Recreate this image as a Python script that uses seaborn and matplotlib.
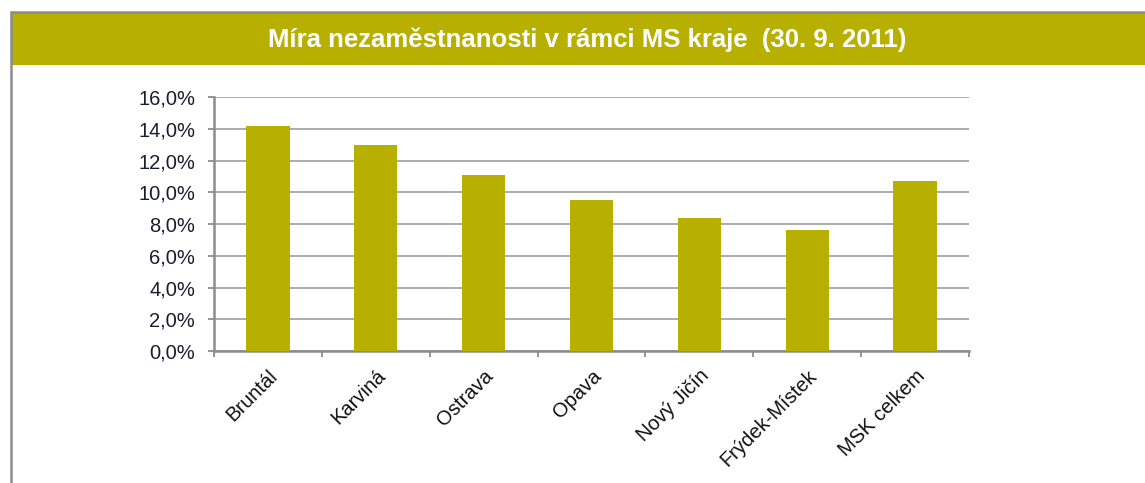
import matplotlib
matplotlib.use("Agg")
import matplotlib.pyplot as plt
from matplotlib.patches import Rectangle
from matplotlib.lines import Line2D
from matplotlib.ticker import FuncFormatter, FixedLocator
import seaborn as sns
import pandas as pd

# Unemployment rate by district, Moravian-Silesian region, 30 Sep 2011
districts = ["Bruntál", "Karviná", "Ostrava", "Opava", "Nový Jičín", "Frýdek-Místek", "MSK celkem"]
rates = [14.2, 13.0, 11.1, 9.5, 8.4, 7.6, 10.7]
y_ticks = [0, 2, 4, 6, 8, 10, 12, 14, 16]
title = "Míra nezaměstnanosti v rámci MS kraje  (30. 9. 2011)"

olive = "#B8B000"
frame_gray = "#8c8c8c"
grid_gray = "#a6a6a6"

sns.set_theme(style="white")
plt.rcParams["font.family"] = ["Liberation Sans", "DejaVu Sans"]

W, H = 1145, 483
fig = plt.figure(figsize=(W / 100, H / 100), dpi=100)
fig.patch.set_facecolor("white")

# outer frame (top and left edges) and title band
fig.add_artist(Line2D([11 / W, 1], [1 - 12 / H, 1 - 12 / H], color=frame_gray, lw=1.8,
                      transform=fig.transFigure))
fig.add_artist(Line2D([11 / W, 11 / W], [0, 1 - 12 / H], color=frame_gray, lw=1.8,
                      transform=fig.transFigure))
fig.add_artist(Rectangle((12 / W, 1 - 65 / H), 1 - 12 / W, 52 / H, transform=fig.transFigure,
                         facecolor=olive, edgecolor="none"))
fig.text(587 / W, 1 - 40 / H, title, color="white", fontsize=18.5, fontweight="bold",
         ha="center", va="center")

ax = fig.add_axes([214 / W, 1 - 351 / H, (969 - 214) / W, (351 - 97) / H])
df = pd.DataFrame({"district": districts, "rate": rates})
sns.barplot(data=df, x="district", y="rate", color=olive, width=0.4, saturation=1,
            edgecolor="none", ax=ax, zorder=3)

ax.set_ylim(0, 16)
ax.set_xlim(-0.5, len(districts) - 0.5)
ax.yaxis.set_major_locator(FixedLocator(y_ticks))
ax.yaxis.set_major_formatter(FuncFormatter(lambda v, p: f"{v:.1f}".replace(".", ",") + "%"))
ax.grid(axis="y", color=grid_gray, lw=1.3, zorder=0)
ax.set_axisbelow(True)
ax.set_xlabel("")
ax.set_ylabel("")

for side in ["top", "right"]:
    ax.spines[side].set_visible(False)
for side in ["left", "bottom"]:
    ax.spines[side].set_color(frame_gray)
    ax.spines[side].set_linewidth(1.8)

# category boundary tick marks on x
ax.xaxis.set_minor_locator(FixedLocator([i - 0.5 for i in range(len(districts) + 1)]))
ax.tick_params(axis="x", which="major", length=0, pad=11)
ax.tick_params(axis="x", which="minor", length=4, width=1.3, color=frame_gray, direction="out",
               bottom=True)
ax.tick_params(axis="y", length=4.5, width=1.3, color=frame_gray, direction="out", left=True, pad=9,
               labelsize=14.5, labelcolor="#1c1c30")
for lab in ax.get_xticklabels():
    lab.set_rotation(45)
    lab.set_ha("right")
    lab.set_rotation_mode("anchor")
    lab.set_fontsize(14.5)
    lab.set_color("#111111")

fig.savefig("out.png", dpi=100, facecolor="white")
